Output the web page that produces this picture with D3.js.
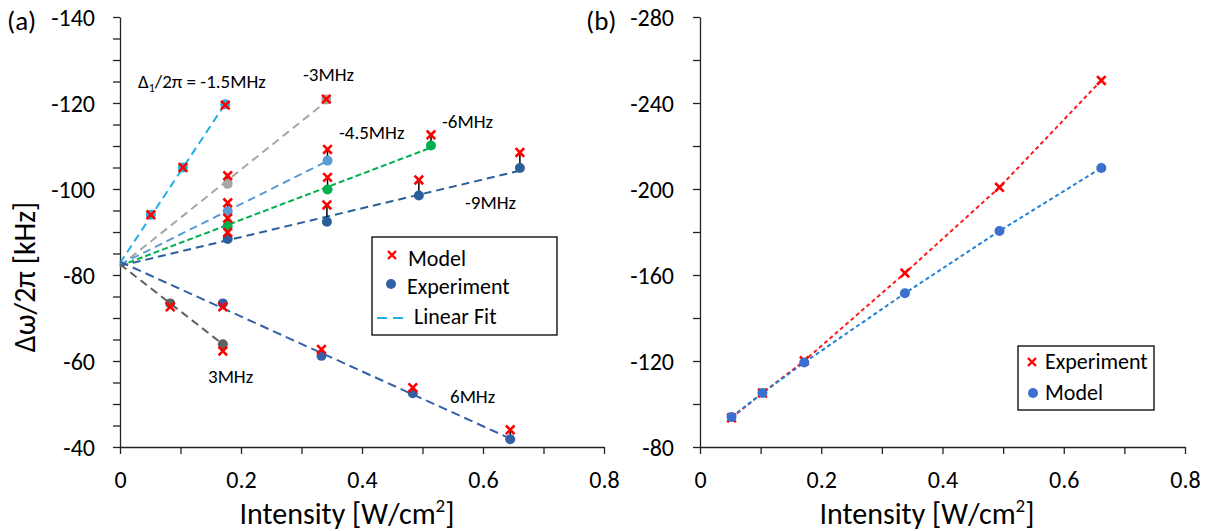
<!DOCTYPE html>
<html><head><meta charset="utf-8">
<script src="https://cdn.jsdelivr.net/npm/d3@7"></script>
<style>
body{margin:0;background:#fff}
svg text{font-family:Carlito,Lato,sans-serif;fill:#000}
</style>
</head><body>
<svg id="chart" width="1210" height="531"></svg>
<script>
// ---------------- DATA (panel a) ----------------
const seriesLabels = ["-1.5MHz","-3MHz","-4.5MHz","-6MHz","-9MHz","3MHz","6MHz"];
const zeroShift = -82.5; // shift at zero intensity (kHz)
const intensityA = [
  [0.051, 0.104, 0.174],
  [0.178, 0.341],
  [0.178, 0.343],
  [0.178, 0.343, 0.514],
  [0.178, 0.342, 0.494, 0.661],
  [0.083, 0.170],
  [0.170, 0.333, 0.484, 0.645]
];
const experimentA = [
  [-94.0, -105.0, -119.7],
  [-101.2, -120.8],
  [-94.8, -106.6],
  [-91.4, -99.9, -110.1],
  [-88.4, -92.4, -98.5, -104.9],
  [-73.4, -63.9],
  [-73.4, -61.2, -52.5, -41.8]
];
const modelA = [
  [-94.0, -105.0, -119.5],
  [-103.1, -120.9],
  [-96.8, -109.2],
  [-93.2, -102.7, -112.6],
  [-89.9, -96.3, -102.1, -108.5],
  [-72.6, -62.3],
  [-72.6, -62.7, -53.8, -44.0]
];
const yTicksA = d3.range(-140, -39, 5);
const yLabelsA = [-140, -120, -100, -80, -60, -40];
const xTicks = [0, 0.1, 0.2, 0.3, 0.4, 0.5, 0.6, 0.7, 0.8];
const xLabels = [0, 0.2, 0.4, 0.6, 0.8];

// ---------------- DATA (panel b) ----------------
const intensityB = [0.052, 0.103, 0.172, 0.338, 0.494, 0.662];
const experimentB = [-93.6, -105.1, -120.1, -160.9, -200.8, -250.5];
const modelB = [-93.9, -105.1, -119.3, -151.5, -180.5, -209.8];
const yTicksB = d3.range(-280, -79, 20);
const yLabelsB = [-280, -240, -200, -160, -120, -80];

// ---------------- STYLE ----------------
const seriesColors = ["#22aee8", "#a6a6a6", "#5b9bd5", "#00b050", "#2a6099", "#606060", "#3560a8"];
const seriesDash = ["8,5", "8,5", "8,5", "6,3", "8,5", "8,5", "9,5"];
const red = "#ff0000";

const svg = d3.select("#chart");

const xA = d3.scaleLinear().domain([0, 0.8]).range([120, 604]);
const yA = d3.scaleLinear().domain([-40, -140]).range([447, 17]);
const xB = d3.scaleLinear().domain([0, 0.8]).range([700, 1185]);
const yB = d3.scaleLinear().domain([-80, -280]).range([447, 17]);

function drawAxes(x, y, yTicks, yLabels, pad) {
  const gy = svg.append("g").attr("transform", `translate(${x.range()[0]},0)`)
    .call(d3.axisLeft(y).tickValues(yTicks).tickSize(7).tickSizeOuter(0).tickPadding(pad)
      .tickFormat(d => yLabels.includes(d) ? String(d) : ""));
  const gx = svg.append("g").attr("transform", `translate(0,${y.range()[0]})`)
    .call(d3.axisBottom(x).tickValues(xTicks).tickSize(7).tickSizeOuter(0)
      .tickFormat(d => xLabels.some(v => Math.abs(v - d) < 1e-9) ? String(+d.toFixed(1)) : ""));
  [gy, gx].forEach(g => {
    g.selectAll("path,line").attr("stroke", "#222").attr("stroke-width", 1.3);
    g.selectAll("text").attr("font-size", 24).attr("font-family", "Carlito,Lato,sans-serif").attr("fill", "#000");
  });
  gx.selectAll("text").attr("y", 41).attr("dy", null);
  gy.selectAll("text").attr("dy", "0.35em");
}

function xMark(g, cx, cy, s, w) {
  g.append("path")
    .attr("d", `M${cx - s},${cy - s}L${cx + s},${cy + s}M${cx - s},${cy + s}L${cx + s},${cy - s}`)
    .attr("stroke", red).attr("stroke-width", w).attr("fill", "none");
}

function linFit(xs, ys) {
  const mx = d3.mean(xs), my = d3.mean(ys);
  let sxy = 0, sxx = 0;
  xs.forEach((v, i) => { sxy += (v - mx) * (ys[i] - my); sxx += (v - mx) * (v - mx); });
  const m = sxy / sxx;
  return { m, b: my - m * mx };
}

// ---------------- PANEL A ----------------
drawAxes(xA, yA, yTicksA, yLabelsA, 18);
const gA = svg.append("g");
seriesLabels.forEach((lab, i) => {
  const xs = [0].concat(intensityA[i]);
  const ys = [zeroShift].concat(experimentA[i]);
  const f = linFit(xs, ys);
  const xEnd = d3.max(intensityA[i]);
  gA.append("line")
    .attr("x1", xA(0)).attr("y1", yA(f.b))
    .attr("x2", xA(xEnd)).attr("y2", yA(f.b + f.m * xEnd))
    .attr("stroke", seriesColors[i]).attr("stroke-width", 2)
    .attr("stroke-dasharray", seriesDash[i]);
});
seriesLabels.forEach((lab, i) => {
  intensityA[i].forEach((xv, j) => {
    gA.append("line")
      .attr("x1", xA(xv)).attr("x2", xA(xv))
      .attr("y1", yA(experimentA[i][j])).attr("y2", yA(modelA[i][j]))
      .attr("stroke", "#000").attr("stroke-width", 1.5);
  });
});
seriesLabels.forEach((lab, i) => {
  intensityA[i].forEach((xv, j) => {
    gA.append("circle").attr("cx", xA(xv)).attr("cy", yA(experimentA[i][j]))
      .attr("r", 5).attr("fill", seriesColors[i]);
  });
});
seriesLabels.forEach((lab, i) => {
  intensityA[i].forEach((xv, j) => xMark(gA, xA(xv), yA(modelA[i][j]), 4.3, 2.6));
});

// annotations
const annFont = 19;
const t15 = svg.append("text").attr("x", 138).attr("y", 88).attr("font-size", annFont);
t15.append("tspan").text("\u0394");
t15.append("tspan").text("1").attr("font-size", 12).attr("dy", 4);
t15.append("tspan").text("/2\u03c0 = " + seriesLabels[0]).attr("dy", -4);
[[1, 303, 81], [2, 339, 139], [3, 442, 128], [4, 465, 209], [5, 208, 383], [6, 450, 403]].forEach(([i, x, y]) => {
  svg.append("text").attr("x", x).attr("y", y).attr("font-size", annFont).text(seriesLabels[i]);
});

// legend A
svg.append("rect").attr("x", 372).attr("y", 237).attr("width", 185).attr("height", 98)
  .attr("fill", "#fff").attr("stroke", "#000").attr("stroke-width", 1.3);
xMark(svg, 392, 255, 4, 2.4);
svg.append("text").attr("x", 408).attr("y", 266).attr("font-size", 22).text("Model");
svg.append("circle").attr("cx", 391).attr("cy", 284).attr("r", 5).attr("fill", seriesColors[6]);
svg.append("text").attr("x", 407).attr("y", 294).attr("font-size", 22).text("Experiment");
svg.append("line").attr("x1", 377).attr("x2", 405).attr("y1", 318).attr("y2", 318)
  .attr("stroke", seriesColors[0]).attr("stroke-width", 2).attr("stroke-dasharray", "10,6");
svg.append("text").attr("x", 414).attr("y", 324).attr("font-size", 22).text("Linear Fit");

// panel label & titles
svg.append("text").attr("x", 7).attr("y", 30).attr("font-size", 27).text("(a)");
svg.append("text").attr("transform", "translate(35,277) rotate(-90)").attr("text-anchor", "middle")
  .attr("font-size", 30).text("\u0394\u03c9/2\u03c0 [kHz]");
function xTitle(cx) {
  const t = svg.append("text").attr("x", cx).attr("y", 524).attr("text-anchor", "middle").attr("font-size", 30);
  t.append("tspan").text("Intensity [W/cm");
  t.append("tspan").text("2").attr("font-size", 19).attr("dy", -12);
  t.append("tspan").text("]").attr("dy", 12);
}
xTitle(347);

// ---------------- PANEL B ----------------
drawAxes(xB, yB, yTicksB, yLabelsB, 19);
const gB = svg.append("g");
const lineB = d3.line().x((d, i) => xB(intensityB[i])).y(d => yB(d));
gB.append("path").datum(experimentB).attr("d", lineB).attr("fill", "none")
  .attr("stroke", "#ff1a1a").attr("stroke-width", 2).attr("stroke-dasharray", "4,3");
gB.append("path").datum(modelB).attr("d", lineB).attr("fill", "none")
  .attr("stroke", "#1f80d8").attr("stroke-width", 2).attr("stroke-dasharray", "4,3");
experimentB.forEach((v, i) => xMark(gB, xB(intensityB[i]), yB(v), 4.3, 2.6));
modelB.forEach((v, i) => gB.append("circle").attr("cx", xB(intensityB[i])).attr("cy", yB(v))
  .attr("r", 5).attr("fill", "#3b70cf"));

svg.append("rect").attr("x", 1018).attr("y", 346).attr("width", 136).attr("height", 64)
  .attr("fill", "#fff").attr("stroke", "#000").attr("stroke-width", 1.3);
xMark(svg, 1032, 362, 4, 2.4);
svg.append("text").attr("x", 1045).attr("y", 369).attr("font-size", 22).text("Experiment");
svg.append("circle").attr("cx", 1033).attr("cy", 393).attr("r", 5).attr("fill", "#3b70cf");
svg.append("text").attr("x", 1045).attr("y", 400).attr("font-size", 22).text("Model");

svg.append("text").attr("x", 586).attr("y", 30).attr("font-size", 27).text("(b)");
xTitle(927);
</script>
</body></html>
